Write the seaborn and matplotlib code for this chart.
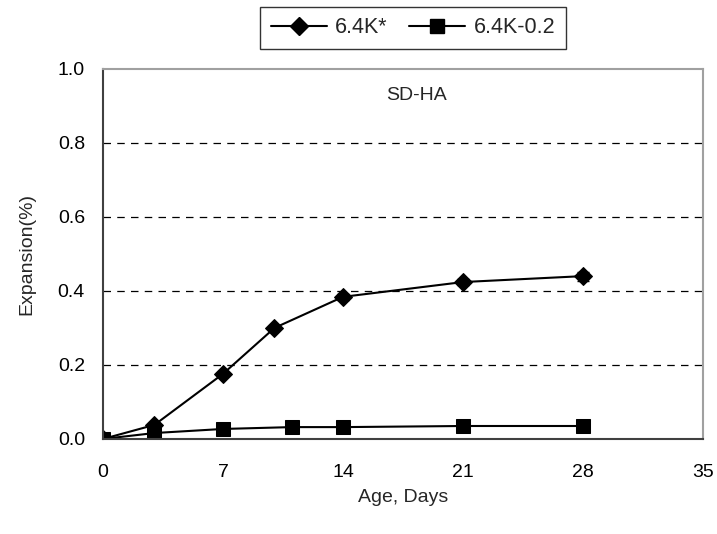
import numpy as np
import pandas as pd
import matplotlib
matplotlib.use("Agg")
import matplotlib.pyplot as plt
import seaborn as sns

# data
days_a = [0, 3, 7, 10, 14, 21, 28]
exp_a = [0.0, 0.038, 0.176, 0.300, 0.384, 0.424, 0.440]
err_a = [0.0, 0.004, 0.006, 0.006, 0.008, 0.008, 0.012]

days_b = [0, 3, 7, 11, 14, 21, 28]
exp_b = [0.0, 0.016, 0.027, 0.032, 0.032, 0.035, 0.035]
err_b = [0.0, 0.003, 0.003, 0.003, 0.003, 0.004, 0.005]

label_a = "6.4K*"
label_b = "6.4K-0.2"
x_ticks = [0, 7, 14, 21, 28, 35]
y_ticks = [0.0, 0.2, 0.4, 0.6, 0.8, 1.0]

sns.set_style("white")
plt.rcParams['font.family'] = ['Liberation Sans', 'DejaVu Sans']

df = pd.concat([
    pd.DataFrame({"Age": days_a, "Expansion": exp_a, "Mix": label_a}),
    pd.DataFrame({"Age": days_b, "Expansion": exp_b, "Mix": label_b}),
])

fig = plt.figure(figsize=(7.17, 5.34), dpi=100)
ax = fig.add_axes([0.1437, 0.178, 0.8368, 0.693])

sns.lineplot(data=df, x="Age", y="Expansion", hue="Mix", style="Mix",
             markers={label_a: "D", label_b: "s"}, dashes=False,
             palette={label_a: "black", label_b: "black"},
             markersize=9, linewidth=1.5, markeredgecolor="black",
             ax=ax, legend=False, sort=False)
ax.lines[1].set_markersize(10.5)

ax.errorbar(days_a, exp_a, yerr=err_a, fmt="none", ecolor="black",
            elinewidth=1, capsize=4, zorder=1)
ax.errorbar(days_b, exp_b, yerr=err_b, fmt="none", ecolor="black",
            elinewidth=1, capsize=4, zorder=1)

ax.set_xlim(0, 35)
ax.set_ylim(0, 1.0)
ax.set_xticks(x_ticks)
ax.set_yticks(y_ticks)
ax.set_yticklabels([f"{v:.1f}" for v in y_ticks])
ax.tick_params(axis="both", labelsize=14, direction="out", length=6,
               width=1, colors="#404040", labelcolor="black")
ax.tick_params(axis="x", pad=12)
ax.tick_params(axis="y", pad=7)

for y in y_ticks[1:-1]:
    ax.axhline(y, color="black", linestyle=(0, (6, 5)), linewidth=0.9, zorder=0)

for side in ["left", "bottom"]:
    ax.spines[side].set_color("#404040")
    ax.spines[side].set_linewidth(1.5)
for side in ["top", "right"]:
    ax.spines[side].set_color("#a0a0a0")
    ax.spines[side].set_linewidth(1.5)

ax.set_xlabel("Age, Days", fontsize=14, labelpad=6)
ax.set_ylabel("Expansion(%)", fontsize=14, labelpad=16)
ax.text(18.3, 0.927, "SD-HA", fontsize=14, ha="center", va="center")

handles = [
    plt.Line2D([], [], color="black", marker="D", markersize=9, linewidth=1.5),
    plt.Line2D([], [], color="black", marker="s", markersize=10, linewidth=1.5),
]
fig.legend(handles, [label_a, label_b], loc="center",
           bbox_to_anchor=(0.576, 0.948), ncol=2, fontsize=15.5,
           frameon=True, fancybox=False, edgecolor="black",
           handlelength=2.6, handletextpad=0.4, columnspacing=1.0,
           borderpad=0.5)

fig.savefig("out.png", dpi=100, facecolor="white")
